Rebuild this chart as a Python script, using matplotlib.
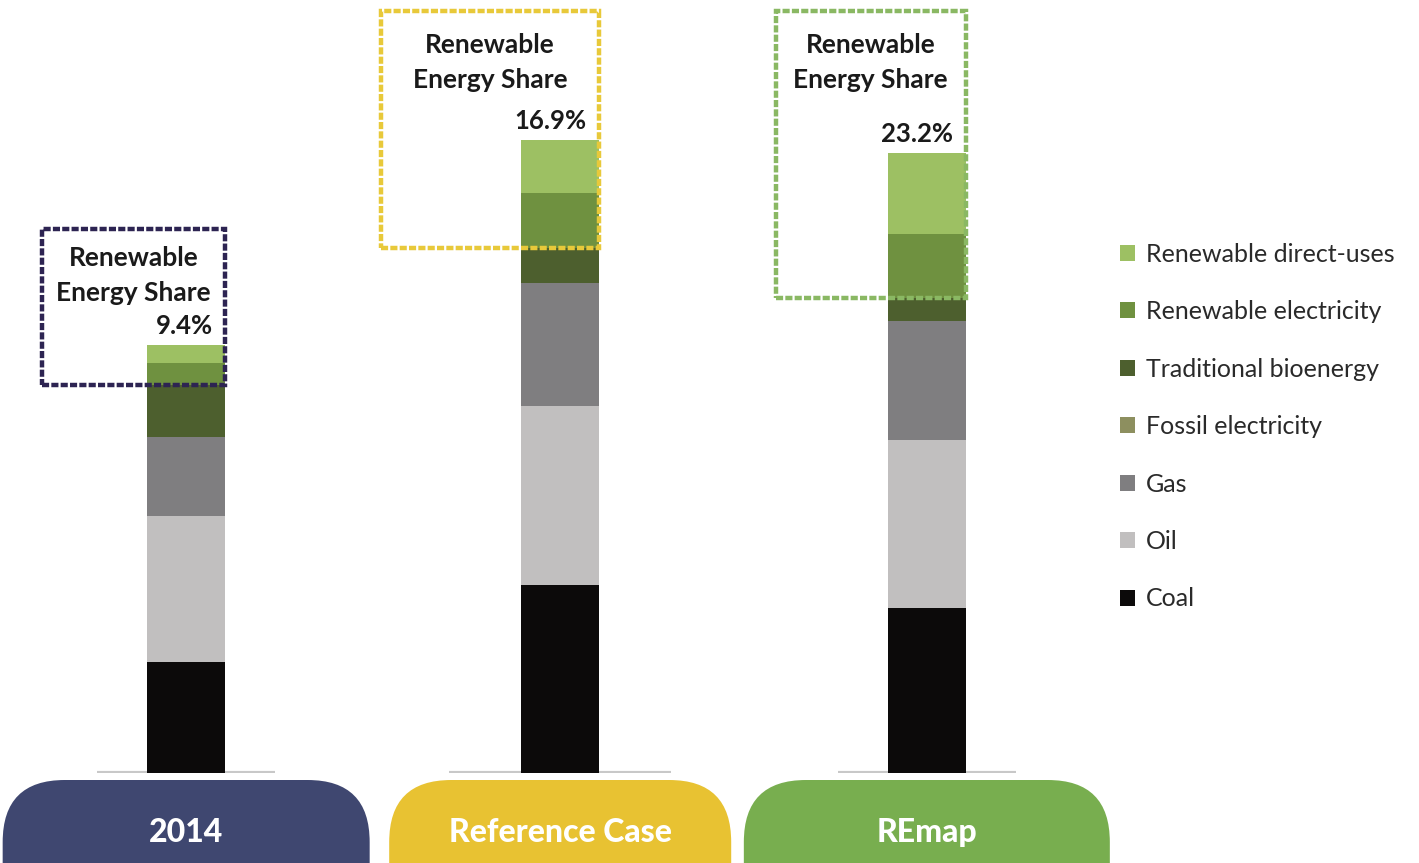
import matplotlib.pyplot as plt
from matplotlib.patches import FancyBboxPatch, Rectangle

# categories and stacked values (same arbitrary unit)
cases = ['2014', 'Reference Case', 'REmap']
coal = [11.1, 18.8, 16.5]
oil = [14.6, 17.9, 16.8]
gas = [7.9, 12.3, 11.9]
fossil_elec = [0.0, 0.0, 0.0]
trad_bio = [5.2, 3.5, 2.3]
ren_elec = [2.2, 5.5, 6.4]
ren_direct = [1.8, 5.3, 8.1]
re_share = [9.4, 16.9, 23.2]

series = [
    ('Coal', coal, '#0c0a0a'),
    ('Oil', oil, '#c1bfbf'),
    ('Gas', gas, '#7f7e80'),
    ('Fossil electricity', fossil_elec, '#8d8f5f'),
    ('Traditional bioenergy', trad_bio, '#4d5f2e'),
    ('Renewable electricity', ren_elec, '#6f9140'),
    ('Renewable direct-uses', ren_direct, '#9dc063'),
]
case_colors = ['#3f4770', '#e8c232', '#78ae4f']
box_colors = ['#2d2452', '#e8c93a', '#8ab863']
box_top = [54.4, 76.2, 76.2]
box_width = [0.494, 0.588, 0.513]
title_pad = [-12, -16, -16]
pill_width = [367, 342, 366]

plt.rcParams['font.family'] = ['Lato', 'DejaVu Sans']

W, H = 1419, 863
fig = plt.figure(figsize=(W / 100, H / 100), dpi=100)
ax = fig.add_axes([1 / W, 90 / H, 1111 / W, 773 / H])
ax.set_xlim(-0.5, 2.5)
ax.set_ylim(0, 77.3)
ax.axis('off')

x = [0, 1.01, 2]
bw = 0.21
bottom = [0.0] * len(cases)
handles = {}
for name, vals, col in series:
    b = ax.bar(x, vals, bw, bottom=bottom, color=col, label=name, zorder=2)
    handles[name] = b
    bottom = [bt + v for bt, v in zip(bottom, vals)]

# light baseline under each bar
base_half = [0.24, 0.30, 0.24]
for i, xi in enumerate(x):
    ax.hlines(0, xi - base_half[i], xi + base_half[i], color='#c8c8c8', lw=3, zorder=1)

# dashed boxes around the renewable share
for i, xi in enumerate(x):
    ren_base = coal[i] + oil[i] + gas[i] + fossil_elec[i] + trad_bio[i]
    right = xi + bw / 2
    left = right - box_width[i]
    ax.add_patch(Rectangle((left, ren_base), box_width[i], box_top[i] - ren_base,
                           fill=False, ls=(0, (1.6, 0.5)), lw=3.2,
                           edgecolor=box_colors[i], zorder=3))
    ax.annotate('Renewable\nEnergy Share', xy=((left + right) / 2, box_top[i]),
                xytext=(0, title_pad[i]), textcoords='offset points', ha='center',
                va='top', fontsize=19, fontweight='bold', color='#1a1a1a',
                linespacing=1.55, zorder=4)
    ax.annotate('%.1f%%' % re_share[i], xy=(right, bottom[i]),
                xytext=(-9, 5), textcoords='offset points', ha='right', va='bottom',
                fontsize=18.5, fontweight='bold', color='#1a1a1a', zorder=4)

# pill shaped case labels at the bottom
pax = fig.add_axes([0, 0, 1, 90 / H])
pax.set_xlim(0, W)
pax.set_ylim(0, 90)
pax.axis('off')
for i, xi in enumerate(x):
    cx = ax.transData.transform((xi, 0))[0]
    pw = pill_width[i]
    pax.add_patch(FancyBboxPatch((cx - pw / 2, -70), pw, 153,
                                 boxstyle='round,pad=0,rounding_size=62',
                                 facecolor=case_colors[i], edgecolor='none'))
    pax.text(cx, 31, cases[i], ha='center', va='center', color='white',
             fontsize=23, fontweight='black')

order = ['Renewable direct-uses', 'Renewable electricity', 'Traditional bioenergy',
         'Fossil electricity', 'Gas', 'Oil', 'Coal']
fig.legend([handles[n] for n in order], order, loc='upper left',
           bbox_to_anchor=(1097 / W, 1 - 220 / H), frameon=False,
           fontsize=18, labelspacing=1.38, handlelength=0.6, handleheight=0.6,
           handletextpad=0.45, labelcolor='#2a2a2a')

fig.savefig('out.png', dpi=100)
